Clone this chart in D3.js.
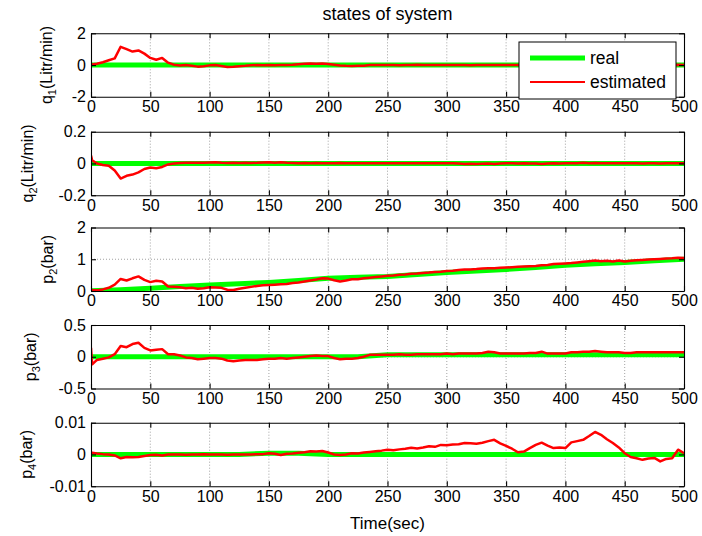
<!DOCTYPE html>
<html>
<head>
<meta charset="utf-8">
<script src="https://cdn.jsdelivr.net/npm/d3@7"></script>
<style>
  body { margin: 0; background: #fff; }
  text { font-family: Arial, "Liberation Sans", sans-serif; }
</style>
</head>
<body>
<div id="chart"></div>
<script>
// sample times of the estimated states (sec)
const tEst = [0, 1,
  5, 10, 15, 20, 25, 30, 35, 40, 45, 50,
  55, 60, 65, 70, 75, 80, 85, 90, 95, 100,
  105, 110, 115, 120, 125, 130, 135, 140, 145, 150,
  155, 160, 165, 170, 175, 180, 185, 190, 195, 200,
  205, 210, 215, 220, 225, 230, 235, 240, 245, 250,
  255, 260, 265, 270, 275, 280, 285, 290, 295, 300,
  305, 310, 315, 320, 325, 330, 335, 340, 345, 350,
  355, 360, 365, 370, 375, 380, 385, 390, 395, 400,
  405, 410, 415, 420, 425, 430, 435, 440, 445, 450,
  455, 460, 465, 470, 475, 480, 485, 490, 495, 500];

// sample times of the real states (sec)
const tReal = [0, 25, 50, 75, 100, 125, 150, 175, 200, 225, 250,
  275, 300, 325, 350, 375, 400, 425, 450, 475, 500];

const q1Real = [0, 0, 0, 0, 0, 0, 0, 0, 0, 0, 0, 0, 0, 0, 0, 0, 0, 0, 0, 0, 0];
const q1Est = [0.0, 0.03,
  0.08, 0.18, 0.3, 0.42, 1.15, 1.0, 0.85, 0.92, 0.72, 0.45,
  0.33, 0.45, 0.15, 0.02, -0.03, 0.0, -0.04, -0.1, -0.08, -0.02,
  0.0, -0.06, -0.12, -0.11, -0.08, -0.05, -0.01, 0.0, -0.02, 0.0,
  -0.01, 0.0, 0.01, 0.02, 0.05, 0.08, 0.1, 0.08, 0.1, 0.06,
  0.02, -0.03, -0.05, -0.06, -0.05, -0.04, 0.0, 0.01, 0.0, 0.01,
  0.0, -0.01, 0.0, 0.01, 0.02, 0.01, 0.0, 0.0, 0.01, 0.0,
  0.0, 0.01, 0.0, -0.01, 0.0, 0.0, 0.01, 0.0, 0.0, 0.01,
  0.0, 0.0, 0.01, 0.0, -0.01, 0.0, 0.0, 0.01, 0.0, 0.0,
  0.01, 0.0, 0.0, 0.01, 0.02, 0.01, 0.0, 0.0, 0.01, 0.0,
  0.0, 0.01, 0.0, 0.0, 0.01, 0.0, 0.0, 0.01, 0.02, 0.0];

const q2Real = [0, 0, 0, 0, 0, 0, 0, 0, 0, 0, 0, 0, 0, 0, 0, 0, 0, 0, 0, 0, 0];
const q2Est = [0.05, 0.02,
  0.0, -0.01, -0.015, -0.045, -0.095, -0.078, -0.07, -0.056, -0.035, -0.025,
  -0.03, -0.022, -0.006, 0.0, 0.003, 0.005, 0.004, 0.005, 0.004, 0.006,
  0.007, 0.004, 0.003, 0.004, 0.003, 0.004, 0.003, 0.004, 0.006, 0.008,
  0.005, 0.007, 0.004, 0.003, 0.002, 0.003, 0.002, 0.003, 0.002, 0.002,
  0.002, 0.003, 0.002, 0.002, 0.001, 0.002, 0.002, 0.001, 0.002, 0.002,
  0.001, 0.002, 0.001, 0.001, 0.002, 0.001, 0.001, 0.001, 0.002, 0.001,
  0.001, 0.0, -0.003, -0.002, -0.003, -0.002, -0.001, -0.003, 0.0, 0.001,
  0.001, 0.0, 0.001, 0.0, 0.0, -0.004, 0.0, 0.001, 0.0, 0.001,
  0.001, 0.002, 0.004, 0.002, 0.003, 0.002, 0.001, 0.001, 0.001, 0.001,
  0.001, 0.001, 0.0, 0.001, 0.001, 0.0, 0.001, 0.001, 0.001, 0.001];

const p2Real = [0.01, 0.04, 0.09, 0.14, 0.19, 0.23, 0.27, 0.33, 0.4, 0.43, 0.46,
  0.52, 0.58, 0.63, 0.68, 0.74, 0.81, 0.86, 0.9, 0.95, 1.0];
const p2Est = [0.02, 0.02,
  0.02, 0.05, 0.1, 0.2, 0.38, 0.33, 0.4, 0.46, 0.35, 0.28,
  0.32, 0.3, 0.14, 0.13, 0.12, 0.09, 0.1, 0.07, 0.09, 0.12,
  0.11, 0.1, 0.04, 0.03, 0.07, 0.1, 0.13, 0.16, 0.18, 0.19,
  0.2, 0.21, 0.22, 0.25, 0.27, 0.3, 0.33, 0.36, 0.4, 0.39,
  0.34, 0.3, 0.33, 0.37, 0.37, 0.4, 0.42, 0.44, 0.46, 0.48,
  0.49, 0.51, 0.52, 0.54, 0.55, 0.57, 0.58, 0.6, 0.61, 0.63,
  0.64, 0.66, 0.68, 0.68, 0.69, 0.71, 0.72, 0.72, 0.73, 0.74,
  0.75, 0.76, 0.77, 0.78, 0.79, 0.81, 0.82, 0.85, 0.86, 0.87,
  0.88, 0.9, 0.92, 0.94, 0.96, 0.94, 0.95, 0.93, 0.96, 0.93,
  0.95, 0.97, 0.98, 0.99, 1.0, 1.01, 1.02, 1.03, 1.05, 1.04];

const p3Real = [0, 0, 0, 0, 0, 0, 0, 0, 0, 0, 0.03,
  0.03, 0.03, 0.03, 0.03, 0.03, 0.03, 0.03, 0.03, 0.03, 0.03];
const p3Est = [0.14, -0.12,
  -0.05, -0.03, -0.01, 0.04, 0.17, 0.15, 0.2, 0.22, 0.14, 0.1,
  0.11, 0.12, 0.04, 0.04, 0.02, -0.01, -0.02, -0.04, -0.03, -0.02,
  -0.02, -0.03, -0.06, -0.07, -0.06, -0.05, -0.05, -0.05, -0.04, -0.03,
  -0.03, -0.02, -0.03, -0.02, -0.01, 0.0, 0.01, 0.02, 0.01, 0.01,
  -0.02, -0.04, -0.03, -0.03, -0.02, 0.0, 0.03, 0.03, 0.03, 0.03,
  0.03, 0.04, 0.03, 0.03, 0.04, 0.04, 0.04, 0.04, 0.04, 0.05,
  0.04, 0.05, 0.05, 0.05, 0.05, 0.06, 0.08, 0.07, 0.05, 0.05,
  0.05, 0.05, 0.05, 0.06, 0.06, 0.08, 0.05, 0.05, 0.05, 0.05,
  0.07, 0.07, 0.08, 0.08, 0.09, 0.08, 0.07, 0.07, 0.07, 0.06,
  0.06, 0.07, 0.07, 0.07, 0.07, 0.07, 0.07, 0.07, 0.07, 0.07];

const p4Real = [0, 0, 0, 0, 0, 0, 0.0004, 0.0004, 0, 0, 0,
  0, 0, 0, 0, 0, 0, 0, 0, 0, 0];
const p4Est = [0.0004, 0.0005,
  0.0003, 0.0001, 0.0, -0.0003, -0.0012, -0.0008, -0.0009, -0.0008, -0.0005, -0.0002,
  -0.0001, -0.0003, 0.0, 0.0, 0.0, -0.0001, 0.0, 0.0, 0.0001, 0.0,
  0.0, 0.0, -0.0001, 0.0, 0.0, 0.0, 0.0, 0.0001, 0.0001, 0.0004,
  0.0002, -0.0002, 0.0002, 0.0003, 0.0005, 0.0007, 0.001, 0.0009, 0.0011, 0.0006,
  0.0, -0.0002, 0.0, 0.0004, 0.0003, 0.0006, 0.0008, 0.001, 0.0012, 0.0015,
  0.0013, 0.0016, 0.0018, 0.0021, 0.0019, 0.0022, 0.0026, 0.0024, 0.003, 0.0029,
  0.0031, 0.0032, 0.0036, 0.0035, 0.0034, 0.0037, 0.0042, 0.0046, 0.0035, 0.0027,
  0.0018, 0.0007, 0.0009, 0.002, 0.003, 0.0037, 0.0028, 0.002, 0.0022, 0.002,
  0.0038, 0.0042, 0.0046, 0.0058, 0.0071, 0.0062, 0.0048, 0.0036, 0.0022, 0.0004,
  -0.0008, -0.0012, -0.0017, -0.0013, -0.0011, -0.0022, -0.0014, -0.0012, 0.0015, 0.0004];

const xTicks = [0, 50, 100, 150, 200, 250, 300, 350, 400, 450, 500];

const q1Ticks = [-2, 0, 2],         q1TickLabels = ["-2", "0", "2"];
const q2Ticks = [-0.2, 0, 0.2],     q2TickLabels = ["-0.2", "0", "0.2"];
const p2Ticks = [0, 1, 2],          p2TickLabels = ["0", "1", "2"];
const p3Ticks = [-0.5, 0, 0.5],     p3TickLabels = ["-0.5", "0", "0.5"];
const p4Ticks = [-0.01, 0, 0.01],   p4TickLabels = ["-0.01", "0", "0.01"];

const seriesNames = ["real", "estimated"];
const titleText = "states of system";
const xLabelText = "Time(sec)";

// ---- layout ----
const width = 702, height = 536;
const plotLeft = 91, plotRight = 684;
const panelTops = [33.3, 131.7, 227.5, 325, 422.7];
const panelH = 63.5;
const labelX = [52, 33, 53, 36, 32];   // baseline of rotated y labels
const green = "#00ff00", red = "#ff0000";

const panels = [
  { sym: "q", sub: "1", unit: "(Litr/min)", domain: [-2, 2], ticks: q1Ticks, tickLabels: q1TickLabels, real: q1Real, est: q1Est },
  { sym: "q", sub: "2", unit: "(Litr/min)", domain: [-0.2, 0.2], ticks: q2Ticks, tickLabels: q2TickLabels, real: q2Real, est: q2Est },
  { sym: "p", sub: "2", unit: "(bar)", domain: [0, 2], ticks: p2Ticks, tickLabels: p2TickLabels, real: p2Real, est: p2Est },
  { sym: "p", sub: "3", unit: "(bar)", domain: [-0.5, 0.5], ticks: p3Ticks, tickLabels: p3TickLabels, real: p3Real, est: p3Est },
  { sym: "p", sub: "4", unit: "(bar)", domain: [-0.01, 0.01], ticks: p4Ticks, tickLabels: p4TickLabels, real: p4Real, est: p4Est }
];

const svg = d3.select("#chart").append("svg")
  .attr("width", width)
  .attr("height", height);

svg.append("rect").attr("width", width).attr("height", height).attr("fill", "#fff");

const x = d3.scaleLinear().domain([0, 500]).range([plotLeft, plotRight]);

panels.forEach((p, i) => {
  const top = panelTops[i], bottom = top + panelH;
  const y = d3.scaleLinear().domain(p.domain).range([bottom, top]);
  const g = svg.append("g").attr("class", "panel");

  g.append("clipPath").attr("id", "clip" + i)
    .append("rect")
    .attr("x", plotLeft).attr("y", top)
    .attr("width", plotRight - plotLeft).attr("height", panelH);

  // dotted grid
  const grid = g.append("g")
    .attr("stroke", "#8a8a8a")
    .attr("stroke-width", 0.8)
    .attr("stroke-dasharray", "1,2");
  grid.selectAll("line.v").data(xTicks.slice(1, -1)).join("line")
    .attr("class", "v")
    .attr("x1", d => x(d)).attr("x2", d => x(d))
    .attr("y1", top).attr("y2", bottom);
  grid.selectAll("line.h").data(p.ticks.slice(1, -1)).join("line")
    .attr("class", "h")
    .attr("x1", plotLeft).attr("x2", plotRight)
    .attr("y1", d => y(d)).attr("y2", d => y(d));

  // data lines
  const lines = g.append("g").attr("clip-path", `url(#clip${i})`);
  lines.append("path")
    .datum(p.real.map((v, k) => [tReal[k], v]))
    .attr("fill", "none")
    .attr("stroke", green)
    .attr("stroke-width", 5)
    .attr("d", d3.line().x(d => x(d[0])).y(d => y(d[1])));
  lines.append("path")
    .datum(p.est.map((v, k) => [tEst[k], v]))
    .attr("fill", "none")
    .attr("stroke", red)
    .attr("stroke-width", 2.5)
    .attr("stroke-linejoin", "round")
    .attr("d", d3.line().x(d => x(d[0])).y(d => y(d[1])));

  // axes (ticks pointing inward, box on)
  const fmtY = d => p.tickLabels[p.ticks.indexOf(d)];
  g.append("g").attr("transform", `translate(0,${bottom})`)
    .call(d3.axisBottom(x).tickValues(xTicks).tickFormat(d3.format("d"))
      .tickSizeInner(-5).tickSizeOuter(0).tickPadding(4));
  g.append("g").attr("transform", `translate(0,${top})`)
    .call(d3.axisTop(x).tickValues(xTicks).tickFormat("")
      .tickSizeInner(-5).tickSizeOuter(0));
  g.append("g").attr("transform", `translate(${plotLeft},0)`)
    .call(d3.axisLeft(y).tickValues(p.ticks).tickFormat(fmtY)
      .tickSizeInner(-5).tickSizeOuter(0).tickPadding(5));
  g.append("g").attr("transform", `translate(${plotRight},0)`)
    .call(d3.axisRight(y).tickValues(p.ticks).tickFormat("")
      .tickSizeInner(-5).tickSizeOuter(0));

  g.selectAll(".tick text")
    .attr("font-family", "Arial, 'Liberation Sans', sans-serif")
    .attr("font-size", 16)
    .attr("fill", "#000");
  g.selectAll(".domain, .tick line").attr("stroke", "#000").attr("stroke-width", 1.1);

  // y label with subscript
  const lab = g.append("text")
    .attr("transform", `translate(${labelX[i]},${(top + bottom) / 2}) rotate(-90)`)
    .attr("text-anchor", "middle")
    .attr("font-size", 16)
    .attr("fill", "#000");
  lab.append("tspan").text(p.sym);
  lab.append("tspan").attr("font-size", 11).attr("dy", 4).text(p.sub);
  lab.append("tspan").attr("dy", -4).text(p.unit);
});

// title and x label
svg.append("text")
  .attr("x", (plotLeft + plotRight) / 2).attr("y", 20)
  .attr("text-anchor", "middle").attr("font-size", 18)
  .text(titleText);
svg.append("text")
  .attr("x", (plotLeft + plotRight) / 2).attr("y", 529)
  .attr("text-anchor", "middle").attr("font-size", 17)
  .text(xLabelText);

// legend
const legend = svg.append("g").attr("transform", "translate(519,42)");
legend.append("rect")
  .attr("width", 157).attr("height", 57)
  .attr("fill", "#fff").attr("stroke", "#000").attr("stroke-width", 1);
const entries = legend.selectAll("g.entry")
  .data(seriesNames)
  .join("g").attr("class", "entry")
  .attr("transform", (d, i) => `translate(0,${16 + i * 24})`);
entries.append("line")
  .attr("x1", 11).attr("x2", 66)
  .attr("stroke", (d, i) => i === 0 ? green : red)
  .attr("stroke-width", (d, i) => i === 0 ? 5 : 2);
entries.append("text")
  .attr("x", 71).attr("y", 6)
  .attr("font-size", 17.5)
  .text(d => d);
</script>
</body>
</html>
